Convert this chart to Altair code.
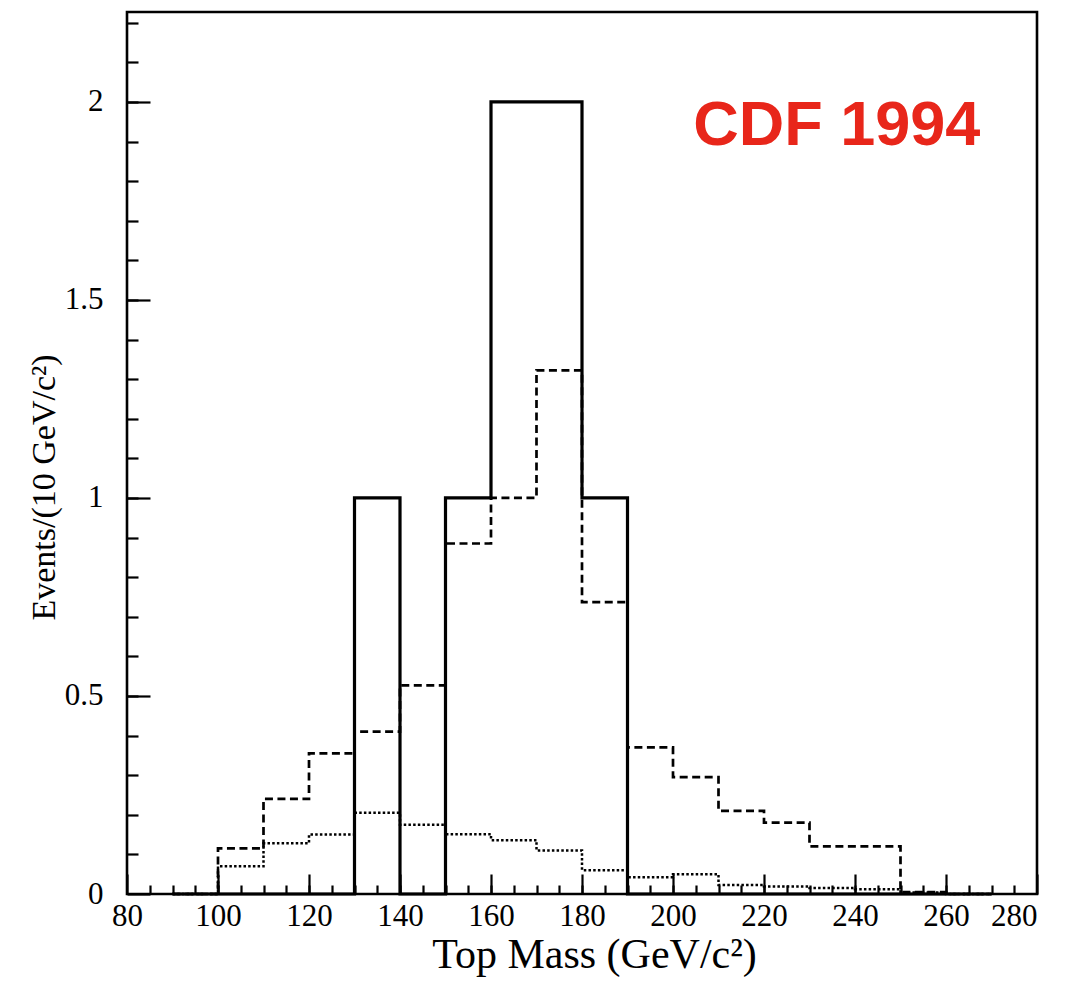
import altair as alt
import pandas as pd

# Histogram bins (lower edges, GeV/c^2), 10 GeV wide
bin_lo = [90, 100, 110, 120, 130, 140, 150, 160, 170, 180, 190, 200, 210, 220, 230, 240, 250, 260]
observed = [0, 0, 0, 0, 1, 0, 1, 2, 2, 1, 0, 0, 0, 0, 0, 0, 0, 0]
signal_bkg = [0, 0.115, 0.24, 0.355, 0.41, 0.527, 0.885, 1.0, 1.322, 0.737, 0.37, 0.295,
              0.21, 0.18, 0.12, 0.12, 0.005, 0]
background = [0, 0.07, 0.128, 0.15, 0.205, 0.175, 0.151, 0.136, 0.11, 0.06, 0.042, 0.05,
              0.023, 0.019, 0.015, 0.012, 0.004, 0]
BIN_W = 10

x_major = [80, 100, 120, 140, 160, 180, 200, 220, 240, 260, 280]
x_minor = list(range(85, 280, 5))
y_major = [0, 0.5, 1, 1.5, 2]
y_minor = [round(0.1 * i, 1) for i in range(1, 23)]

label_text = ["CDF 1994"]
label_x = [236]
label_y = [1.89]

W, H = 910, 882
SERIF = "Liberation Serif"


def step_table(values):
    xs = bin_lo + [bin_lo[-1] + BIN_W]
    ys = values + [values[-1]]
    return pd.DataFrame({"x": xs, "y": ys})


xscale = alt.Scale(domain=[80, 280], nice=False, zero=False)
yscale = alt.Scale(domain=[0, 2.227], nice=False, zero=False)

tick_axis_common = dict(labels=False, domain=False, grid=False, title="",
                        tickColor="black", tickWidth=2.2)

# dotted: background only; carries the labelled axes
dotted = alt.Chart(step_table(background)).mark_line(
    color="black", strokeWidth=2.5, strokeDash=[2.5, 2.2], interpolate="step-after"
).encode(
    x=alt.X("x:Q", scale=xscale, axis=alt.Axis(
        orient="bottom", values=x_major, ticks=False, domain=False, grid=False,
        labelFont=SERIF, labelFontSize=31, labelColor="black", labelPadding=7,
        labelFlush=False, labelOverlap=False,
        labelAlign={"condition": {"test": "datum.value >= 280", "value": "right"},
                    "value": "center"},
        title="Top Mass (GeV/c²)", titleFont=SERIF, titleFontSize=42,
        titleFontWeight="normal", titleColor="black", titleBaseline="alphabetic",
        titleX=467, titleY=73)),
    y=alt.Y("y:Q", scale=yscale, axis=alt.Axis(
        orient="left", values=y_major, format="~g", ticks=False, domain=False, grid=False,
        labelFont=SERIF, labelFontSize=31, labelColor="black", labelPadding=24,
        labelFlush=False, labelOverlap=False,
        title="Events/(10 GeV/c²)", titleFont=SERIF, titleFontSize=34,
        titleFontWeight="normal", titleColor="black", titleAngle=270,
        titleBaseline="alphabetic", titleAlign="center", titleX=-73, titleY=475)),
)

# dashed: expected signal + background; carries the minor inward ticks
dashed = alt.Chart(step_table(signal_bkg)).mark_line(
    color="black", strokeWidth=2.7, strokeDash=[8, 4.5], interpolate="step-after"
).encode(
    x=alt.X("x:Q", scale=xscale, axis=alt.Axis(
        orient="top", offset=-H, values=x_minor, tickSize=9, **tick_axis_common)),
    y=alt.Y("y:Q", scale=yscale, axis=alt.Axis(
        orient="right", offset=-W, values=y_minor, tickSize=11, **tick_axis_common)),
)

# solid: observed data; carries the major inward ticks
solid = alt.Chart(step_table(observed)).mark_line(
    color="black", strokeWidth=3.2, interpolate="step-after"
).encode(
    x=alt.X("x:Q", scale=xscale, axis=alt.Axis(
        orient="top", offset=-H, values=x_major, tickSize=20, **tick_axis_common)),
    y=alt.Y("y:Q", scale=yscale, axis=alt.Axis(
        orient="right", offset=-W, values=y_major, tickSize=23, **tick_axis_common)),
)

label = alt.Chart(pd.DataFrame({"t": label_text, "x": label_x, "y": label_y})).mark_text(
    font="Liberation Sans", fontWeight="bold", fontSize=63, color="#E8261A",
    align="center", baseline="alphabetic"
).encode(
    x=alt.X("x:Q", scale=xscale, axis=None),
    y=alt.Y("y:Q", scale=yscale, axis=None),
    text="t:N",
)

chart = alt.layer(dotted, dashed, solid, label).resolve_axis(
    x="independent", y="independent"
).properties(
    width=W, height=H,
    autosize=alt.AutoSizeParams(type="none"),
    padding={"left": 119, "top": 4, "right": 21, "bottom": 94},
    background="white",
).configure_view(
    stroke="black", strokeWidth=2.6
)

chart.save("out.html", embed_options={"renderer": "svg", "actions": False})
